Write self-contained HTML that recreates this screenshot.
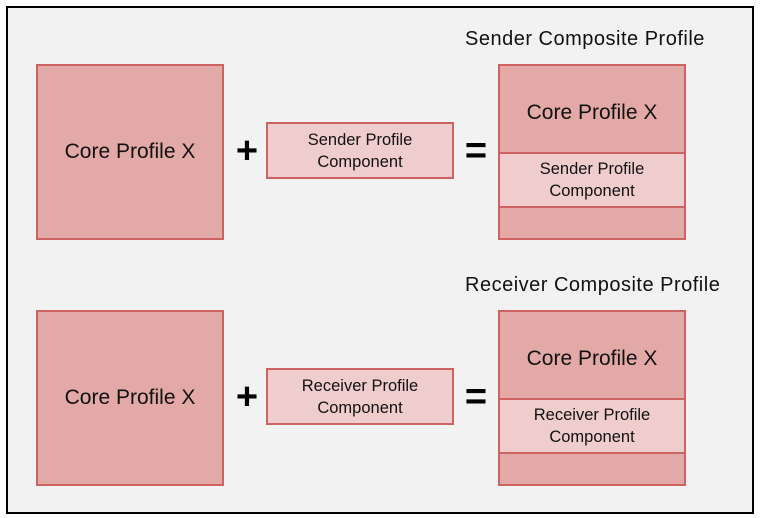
<!DOCTYPE html>
<html><head><style>
body{margin:0;width:761px;height:518px;background:#fff;font-family:"Liberation Sans",sans-serif;position:relative;overflow:hidden}
.frame{position:absolute;left:6px;top:6px;width:744px;height:504px;border:2px solid #000;background:#f2f2f2}
.b{position:absolute;box-sizing:border-box;border:2px solid #cd6462;background:#e3a9a7;display:flex;align-items:center;justify-content:center;text-align:center;color:#111}
.l{background:#efcdcc;font-size:16.5px;line-height:22px}
.big{font-size:21px}
.t{position:absolute;font-size:20px;letter-spacing:0.5px;color:#111;white-space:nowrap}
.op{position:absolute;font-size:38px;font-weight:bold;color:#000;width:30px;text-align:center}
</style></head><body>
<div class="frame"></div>

<div class="t" style="left:465px;top:28px">Sender Composite Profile</div>
<div class="b big" style="left:36px;top:64px;width:188px;height:176px">Core Profile X</div>
<div class="op" style="left:232px;top:130px">+</div>
<div class="b l" style="left:266px;top:122px;width:188px;height:57px">Sender Profile<br>Component</div>
<div class="op" style="left:461px;top:130px">=</div>
<div class="b big" style="left:498px;top:64px;width:188px;height:176px"></div>
<div class="b big" style="left:498px;top:64px;width:188px;height:90px;padding-top:8px">Core Profile X</div>
<div class="b l" style="left:498px;top:152px;width:188px;height:56px">Sender Profile<br>Component</div>

<div class="t" style="left:465px;top:274px">Receiver Composite Profile</div>
<div class="b big" style="left:36px;top:310px;width:188px;height:176px">Core Profile X</div>
<div class="op" style="left:232px;top:376px">+</div>
<div class="b l" style="left:266px;top:368px;width:188px;height:57px">Receiver Profile<br>Component</div>
<div class="op" style="left:461px;top:376px">=</div>
<div class="b big" style="left:498px;top:310px;width:188px;height:176px"></div>
<div class="b big" style="left:498px;top:310px;width:188px;height:90px;padding-top:8px">Core Profile X</div>
<div class="b l" style="left:498px;top:398px;width:188px;height:56px">Receiver Profile<br>Component</div>
</body></html>
